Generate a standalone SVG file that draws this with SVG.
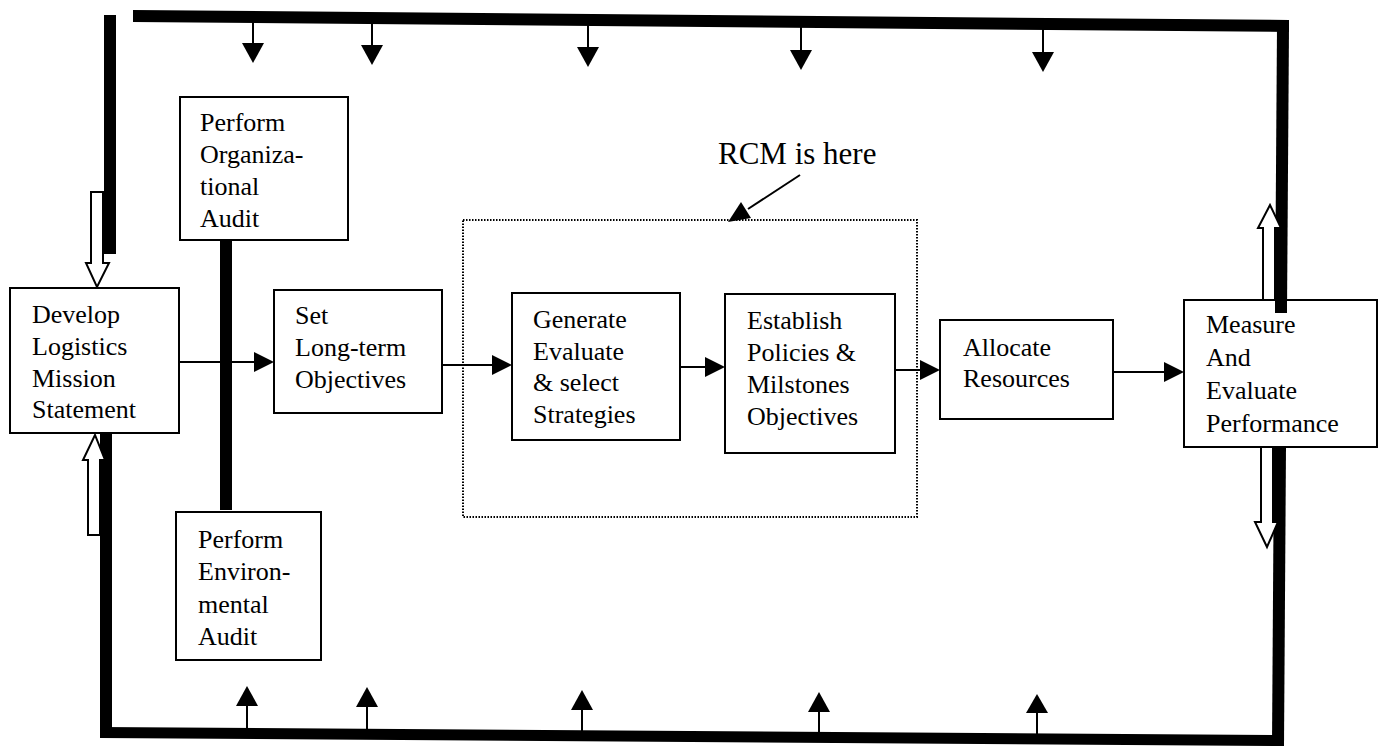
<svg xmlns="http://www.w3.org/2000/svg" width="1382" height="746" viewBox="0 0 1382 746">
<style>
.box{fill:#fff;stroke:#000;stroke-width:2}
text{font-family:'Liberation Serif','Times New Roman',Times,'DejaVu Serif',serif;fill:#000}
.t{font-size:26px}
.rcm{font-size:31px}
.bar{fill:#000}
.ln{stroke:#000;stroke-width:2;fill:none}
.hd{fill:#000}
.hollow{fill:#fff;stroke:#000;stroke-width:2}
.dot{fill:none;stroke:#000;stroke-width:2;stroke-dasharray:1.5 1.5}
</style>
<rect width="1382" height="746" fill="#fff"/>

<g id="frame">
  <polygon class="bar" points="133,10 1289,20 1289,32 133,22"/>
  <polygon class="bar" points="1277,26 1289,26 1287,313 1275,313"/>
  <polygon class="bar" points="1274,447 1286,447 1284,745 1272,745"/>
  <polygon class="bar" points="100,727 1284,735 1284,746 100,738"/>
  <rect class="bar" x="104" y="15" width="12" height="239"/>
  <rect class="bar" x="100" y="433" width="12" height="305"/>
  <rect class="bar" x="220" y="240" width="12" height="270"/>
</g>

<rect id="rcm-region" class="dot" x="463" y="220" width="454" height="297"/>

<g id="connectors">
  <line class="ln" x1="253" y1="20" x2="253" y2="44"/><polygon class="hd" points="242,43 264,43 253,63"/>
  <line class="ln" x1="372" y1="21" x2="372" y2="46"/><polygon class="hd" points="361,45 383,45 372,65"/>
  <line class="ln" x1="588" y1="23" x2="588" y2="48"/><polygon class="hd" points="577,47 599,47 588,67"/>
  <line class="ln" x1="801" y1="25" x2="801" y2="51"/><polygon class="hd" points="790,50 812,50 801,70"/>
  <line class="ln" x1="1043" y1="28" x2="1043" y2="53"/><polygon class="hd" points="1032,52 1054,52 1043,72"/>
  <line class="ln" x1="247" y1="729" x2="247" y2="705"/><polygon class="hd" points="236,706 258,706 247,686"/>
  <line class="ln" x1="367" y1="730" x2="367" y2="706"/><polygon class="hd" points="356,707 378,707 367,687"/>
  <line class="ln" x1="582" y1="731" x2="582" y2="709"/><polygon class="hd" points="571,710 593,710 582,690"/>
  <line class="ln" x1="819" y1="733" x2="819" y2="711"/><polygon class="hd" points="808,712 830,712 819,692"/>
  <line class="ln" x1="1037" y1="735" x2="1037" y2="712"/><polygon class="hd" points="1026,713 1048,713 1037,694"/>
  <line class="ln" x1="179" y1="362" x2="256" y2="362"/><polygon class="hd" points="254,352 274,362 254,372"/>
  <line class="ln" x1="442" y1="365" x2="494" y2="365"/><polygon class="hd" points="492,355 512,365 492,375"/>
  <line class="ln" x1="680" y1="367" x2="707" y2="367"/><polygon class="hd" points="705,357 725,367 705,377"/>
  <line class="ln" x1="895" y1="370" x2="922" y2="370"/><polygon class="hd" points="920,360 940,370 920,380"/>
  <line class="ln" x1="1113" y1="372" x2="1166" y2="372"/><polygon class="hd" points="1164,362 1184,372 1164,382"/>
  <polygon class="hollow" points="91,192 103,192 103,263 109,263 97,287 86,263 91,263"/>
  <polygon class="hollow" points="88,535 100,535 100,460 105,460 95,435 83,460 88,460"/>
  <polygon class="hollow" points="1263,300 1275,300 1275,228 1281,228 1270,205 1258,228 1263,228"/>
  <polygon class="hollow" points="1261,447 1273,447 1273,522 1278,522 1267,547 1255,522 1261,522"/>
  <line class="ln" x1="800" y1="175" x2="748" y2="209"/><polygon class="hd" points="728,222 751,218 741,202"/>
</g>

<g id="rcm-label"><text class="rcm" x="718" y="164">RCM is here</text></g>

<g id="org-audit">
  <rect class="box" x="180" y="97" width="168" height="143"/>
  <text class="t" x="200" y="131">Perform</text>
  <text class="t" x="200" y="163">Organiza-</text>
  <text class="t" x="200" y="195">tional</text>
  <text class="t" x="200" y="227">Audit</text>
</g>
<g id="mission">
  <rect class="box" x="10" y="288" width="169" height="145"/>
  <text class="t" x="32" y="323">Develop</text>
  <text class="t" x="32" y="355">Logistics</text>
  <text class="t" x="32" y="387">Mission</text>
  <text class="t" x="32" y="418">Statement</text>
</g>
<g id="env-audit">
  <rect class="box" x="176" y="512" width="145" height="148"/>
  <text class="t" x="198" y="548">Perform</text>
  <text class="t" x="198" y="580">Environ-</text>
  <text class="t" x="198" y="613">mental</text>
  <text class="t" x="198" y="645">Audit</text>
</g>
<g id="objectives">
  <rect class="box" x="274" y="290" width="168" height="123"/>
  <text class="t" x="295" y="324">Set</text>
  <text class="t" x="295" y="356">Long-term</text>
  <text class="t" x="295" y="388">Objectives</text>
</g>
<g id="strategies">
  <rect class="box" x="512" y="293" width="168" height="147"/>
  <text class="t" x="533" y="328">Generate</text>
  <text class="t" x="533" y="360">Evaluate</text>
  <text class="t" x="533" y="391">&amp; select</text>
  <text class="t" x="533" y="423">Strategies</text>
</g>
<g id="policies">
  <rect class="box" x="725" y="294" width="170" height="159"/>
  <text class="t" x="747" y="329">Establish</text>
  <text class="t" x="747" y="361">Policies &amp;</text>
  <text class="t" x="747" y="393">Milstones</text>
  <text class="t" x="747" y="425">Objectives</text>
</g>
<g id="resources">
  <rect class="box" x="940" y="320" width="173" height="99"/>
  <text class="t" x="963" y="356">Allocate</text>
  <text class="t" x="963" y="387">Resources</text>
</g>
<g id="performance">
  <rect class="box" x="1184" y="300" width="193" height="147"/>
  <text class="t" x="1206" y="333">Measure</text>
  <text class="t" x="1206" y="366">And</text>
  <text class="t" x="1206" y="399">Evaluate</text>
  <text class="t" x="1206" y="432">Performance</text>
</g>
<polygon class="bar" points="1275,300 1287,300 1287,313 1275,313"/>
</svg>
